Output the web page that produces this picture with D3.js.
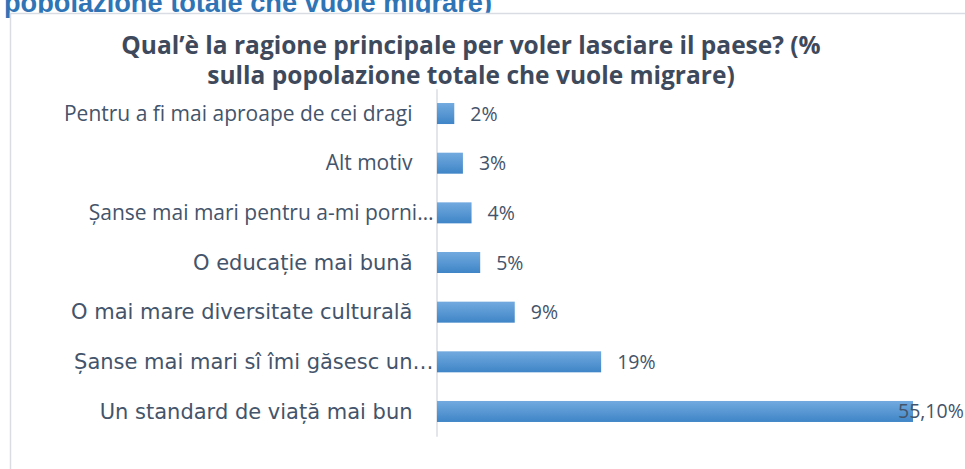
<!DOCTYPE html>
<html>
<head>
<meta charset="utf-8">
<script src="https://cdn.jsdelivr.net/npm/d3@7/dist/d3.min.js"></script>
<style>
  html, body { margin: 0; padding: 0; background: #ffffff; }
  svg { display: block; }
</style>
</head>
<body>
<svg id="chart" width="965" height="469"></svg>
<script>
// Reasons for wanting to leave the country (share of people who want to migrate)
const categories = [
  "Pentru a fi mai aproape de cei dragi",
  "Alt motiv",
  "Șanse mai mari pentru a-mi porni…",
  "O educație mai bună",
  "O mai mare diversitate culturală",
  "Șanse mai mari sî îmi găsesc un…",
  "Un standard de viață mai bun"
];
const values = [2, 3, 4, 5, 9, 19, 55.1];
const valueLabels = ["2%", "3%", "4%", "5%", "9%", "19%", "55,10%"];
const titleLines = [
  "Qual’è la ragione principale per voler lasciare il paese? (%",
  "sulla popolazione totale che vuole migrare)"
];
const headingText = "popolazione totale che vuole migrare)";

const svg = d3.select("#chart");
const W = 965, H = 469;

// Heading of the page section, partly hidden behind the chart frame
svg.append("text")
  .attr("x", 4)
  .attr("y", 12)
  .attr("font-family", "Liberation Sans, Arial, sans-serif")
  .attr("font-weight", "bold")
  .attr("font-size", 27.2)
  .attr("fill", "#2f75b6")
  .text(headingText);

// Chart frame
svg.append("rect")
  .attr("x", 10.5)
  .attr("y", 13.5)
  .attr("width", W + 20)
  .attr("height", H + 20)
  .attr("fill", "#ffffff")
  .attr("stroke", "#d9dde3")
  .attr("stroke-width", 1.5);

// Bar gradient
const defs = svg.append("defs");
const grad = defs.append("linearGradient")
  .attr("id", "barGrad")
  .attr("x1", 0).attr("y1", 0).attr("x2", 0).attr("y2", 1);
grad.append("stop").attr("offset", "0%").attr("stop-color", "#72aadf");
grad.append("stop").attr("offset", "100%").attr("stop-color", "#3f85c7");

// Title
const title = svg.append("text")
  .attr("text-anchor", "middle")
  .attr("font-family", "Open Sans, sans-serif")
  .attr("font-weight", "bold")
  .attr("font-size", 24.5)
  .attr("fill", "#3e4a5c");
title.selectAll("tspan")
  .data(titleLines)
  .join("tspan")
  .attr("x", 471)
  .attr("y", (d, i) => 54 + i * 30)
  .text(d => d);

// Scales
const x = d3.scaleLinear()
  .domain([0, 55.1])
  .range([437, 913]);

const y = d3.scaleBand()
  .domain(categories)
  .range([88.7, 436.3])
  .paddingInner(0.577)
  .paddingOuter(0.2885);

// Category axis
const axis = svg.append("g")
  .attr("transform", `translate(${x(0) - 0.5},0)`)
  .call(d3.axisLeft(y).tickSize(0).tickPadding(24));

axis.select(".domain")
  .attr("stroke", "#d9dde3")
  .attr("stroke-width", 1.5);

const hasDiacritics = s => /[ățâ]/.test(s);

axis.selectAll(".tick text")
  .attr("fill", "#44546a")
  .attr("font-family", d => hasDiacritics(d) ? "DejaVu Sans, sans-serif" : "Open Sans, sans-serif")
  .attr("font-size", d => hasDiacritics(d) ? 21 : 21)
  .attr("dy", "0.34em")
  .attr("x", d => d.endsWith("…") ? -3 : -24);

// Bars
svg.append("g")
  .selectAll("rect")
  .data(values)
  .join("rect")
  .attr("x", x(0))
  .attr("y", (d, i) => y(categories[i]))
  .attr("width", d => x(d) - x(0))
  .attr("height", y.bandwidth())
  .attr("fill", "url(#barGrad)");

// Value labels
svg.append("g")
  .selectAll("text")
  .data(values)
  .join("text")
  .attr("x", d => Math.min(x(d) + 16, 898))
  .attr("y", (d, i) => y(categories[i]) + y.bandwidth() / 2)
  .attr("dy", "0.36em")
  .attr("font-family", "Open Sans, sans-serif")
  .attr("font-size", 19.5)
  .attr("fill", "#44546a")
  .text((d, i) => valueLabels[i]);
</script>
</body>
</html>
